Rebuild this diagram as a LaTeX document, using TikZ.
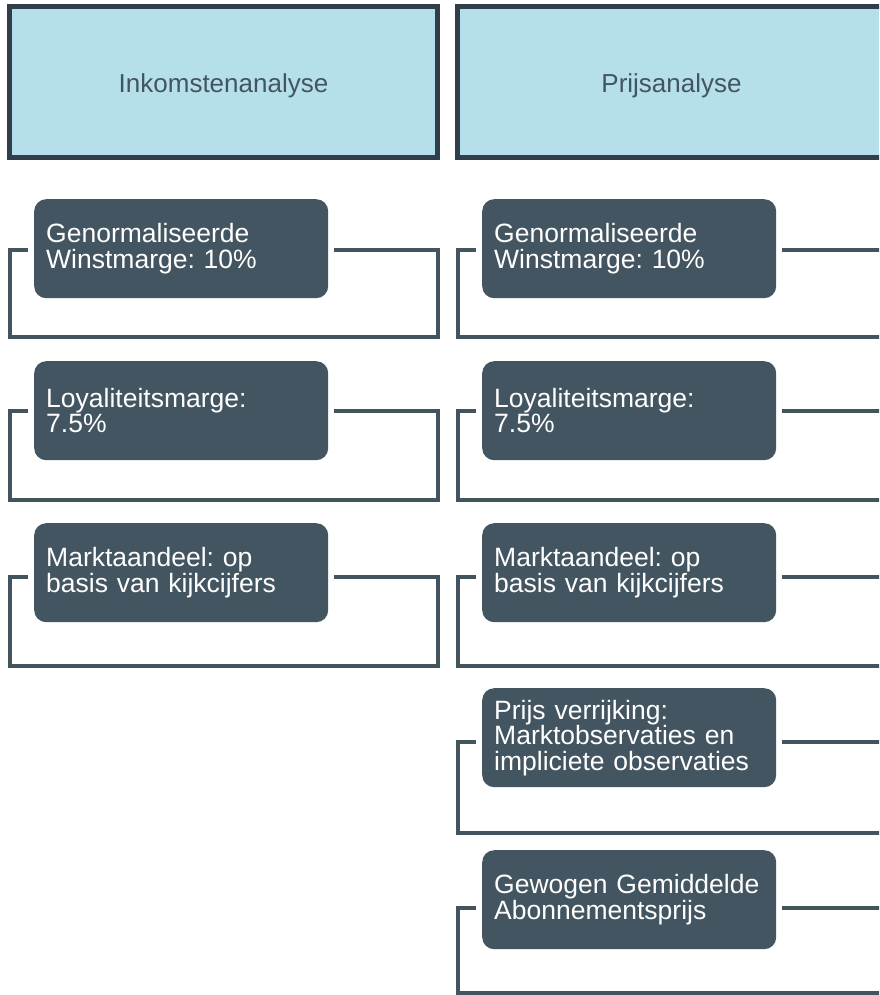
\documentclass[tikz,border=0pt]{standalone}
\usepackage{fontspec}
\setmainfont{Liberation Sans}
\frenchspacing
\definecolor{hdrfill}{HTML}{B5DFEA}
\definecolor{hdrdraw}{HTML}{2F3E48}
\definecolor{boxfill}{HTML}{435560}
\definecolor{linecol}{HTML}{44545F}
\definecolor{hdrtext}{HTML}{435560}
\newcommand\mybrk[5]{%
  \path (#1.west) ++(-6,0) coordinate (bl) (#1.east) ++(6,0) coordinate (br);
  \draw[bracket] (bl |- 0,#4) -- (#2,#4) -- (#2,#5) -- (#3,#5) -- (#3,#4) -- (br |- 0,#4);}
\begin{document}
\begin{tikzpicture}[x=1pt,y=-1pt,
  header/.style={draw=hdrdraw, fill=hdrfill, line width=5pt, minimum width=428pt,
    minimum height=151pt, inner sep=0pt, text=hdrtext, text height=22pt, text depth=0pt,
    font=\fontsize{26}{30}\selectfont},
  item/.style={fill=boxfill, rounded corners=12pt, minimum width=294pt, minimum height=99pt,
    text width=270pt, inner xsep=12pt, inner ysep=0pt, align=left, text=white,
    font=\fontsize{26.5}{25.5}\selectfont, anchor=north west},
  bracket/.style={draw=linecol, line width=4pt}]
\useasboundingbox (0,0) rectangle (879,995);
\clip (0,0) rectangle (879,995);
% headers
\node[header] (hL) at (223.5,82) {Inkomstenanalyse};
\node[header] (hR) at (671.5,82) {Prijsanalyse};
% left column
\node[item] (L1) at (34,199) {Genormaliseerde\\Winstmarge: 10\%};
\node[item] (L2) at (34,361) {Loyaliteitsmarge:\\7.5\%};
\node[item] (L3) at (34,523) {Marktaandeel: op\\basis van kijkcijfers};
% right column
\node[item] (R1) at (482,199) {Genormaliseerde\\Winstmarge: 10\%};
\node[item] (R2) at (482,361) {Loyaliteitsmarge:\\7.5\%};
\node[item] (R3) at (482,523) {Marktaandeel: op\\basis van kijkcijfers};
\node[item] (R4) at (482,688) {Prijs verrijking:\\Marktobservaties en\\impliciete observaties};
\node[item] (R5) at (482,850) {Gewogen Gemiddelde\\Abonnementsprijs};
% brackets
\mybrk{L1}{10}{438}{250}{337}
\mybrk{L2}{10}{438}{411}{500}
\mybrk{L3}{10}{438}{577}{666}
\mybrk{R1}{458}{886}{250}{337}
\mybrk{R2}{458}{886}{411}{500}
\mybrk{R3}{458}{886}{577}{666}
\mybrk{R4}{458}{886}{742}{833}
\mybrk{R5}{458}{886}{908}{993}
\end{tikzpicture}
\end{document}
